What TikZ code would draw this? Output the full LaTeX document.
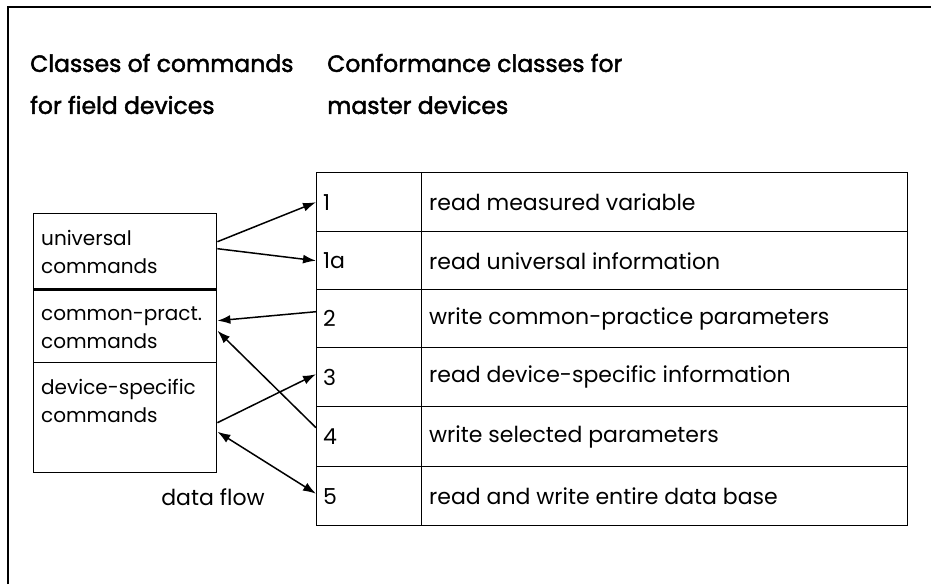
\documentclass[tikz,border=0pt]{standalone}
\usepackage{fontspec}
\setmainfont{Poppins}
\newfontfamily\hdr[FakeBold=2]{Poppins}
\usetikzlibrary{arrows.meta,calc}
\begin{document}
\begin{tikzpicture}[x=1pt,y=-1pt,
  frame/.style={line width=1.5pt},
  cell/.style={draw,line width=1.4pt,minimum height=0pt,inner sep=0pt},
  body/.style={font=\fontsize{22}{28}\selectfont,inner sep=0pt,anchor=west,align=left},
  side/.style={font=\fontsize{20}{28}\selectfont,inner sep=0pt,anchor=west,align=left},
  head/.style={font=\hdr\fontsize{23.5}{42}\selectfont,inner sep=0pt,anchor=west,align=left},
  flow/.style={line width=1.5pt,-{Latex[length=13pt,width=9pt]}},
  flow2/.style={line width=1.5pt,{Latex[length=13pt,width=9pt]}-{Latex[length=13pt,width=9pt]}}]
\useasboundingbox (0,0) rectangle (931,584);
\fill[white] (0,0) rectangle (931,584);
% frame
\draw[frame] (8,584) -- (8,7) -- (931,7);
% headers
\node[head] (h1) at (30,84) {Classes of commands\\for field devices};
\node[head] (h2) at (327,84) {Conformance classes for\\master devices};
% left boxes
\node[cell,minimum width=183pt,minimum height=75pt,anchor=north west] (u) at (33,213) {};
\node[cell,minimum width=183pt,minimum height=74pt,anchor=north west] (c) at (33,288) {};
\node[cell,minimum width=183pt,minimum height=110pt,anchor=north west] (d) at (33,362) {};
\draw[line width=2.8pt] (u.south west) -- (u.south east);
\node[side] (ut) at (41,252) {universal\\commands};
\node[side] (ct) at (41,328) {common-pract.\\commands};
\node[side] (dt) at (41,401) {device-specific\\commands};
\node[body,anchor=center] (df) at (213,497) {data flow};
% table
\foreach \i/\n/\t/\ya/\yb in {1/1/read measured variable/172/231,
                              2/1a/read universal information/231/289,
                              3/2/write common-practice parameters/289/347,
                              4/3/read device-specific information/347/406,
                              5/4/write selected parameters/406/466,
                              6/5/read and write entire data base/466/525}{
  \node[cell,minimum width=105pt,minimum height={\yb-\ya},anchor=north west] (n\i) at (316,\ya) {};
  \node[cell,minimum width=486pt,minimum height={\yb-\ya},anchor=north west] (t\i) at (421,\ya) {};
  \node[body] (nl\i) at ($(n\i.west)+(7,0)$) {\n};
  \node[body] (tl\i) at ($(t\i.west)+(8,0)$) {\t};
}
% arrows
\draw[flow] ($(u.east)+(0,-9.5)$) -- (n1.west);
\draw[flow] ($(u.east)+(0,-2.5)$) -- (n2.west);
\draw[flow] ($(n3.west)+(0,-7)$) -- ($(c.east)+(0,-5)$);
\draw[flow] ($(n5.west)+(0,-9)$) -- ($(c.east)+(0,5)$);
\draw[flow] ($(d.east)+(0,5)$) -- ($(n4.west)+(0,-3)$);
\draw[flow2] ($(d.east)+(0,14)$) -- ($(n6.west)+(0,-2.5)$);
\end{tikzpicture}
\end{document}
